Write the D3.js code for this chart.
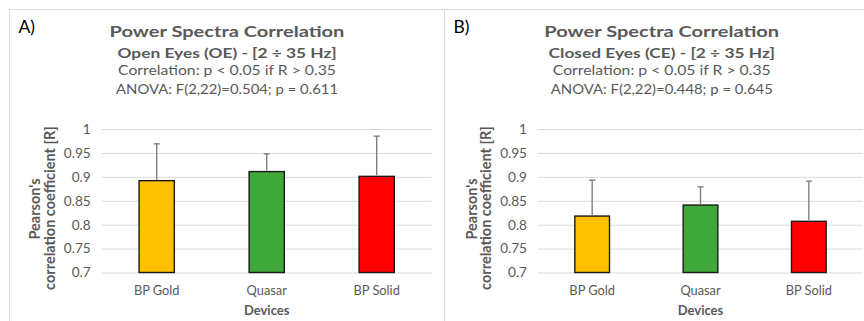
<!DOCTYPE html>
<html>
<head>
<meta charset="utf-8">
<script src="https://cdn.jsdelivr.net/npm/d3@7"></script>
<style>
  html, body { margin: 0; padding: 0; background: #fff; }
  svg { display: block; font-family: Lato, "Open Sans", sans-serif; }
</style>
</head>
<body>
<svg id="chart" width="864" height="321"></svg>
<script>
// data
const devices = ["BP Gold", "Quasar", "BP Solid"];
const meanOE = [0.892, 0.911, 0.901];
const errOE = [0.077, 0.037, 0.084];
const meanCE = [0.818, 0.841, 0.807];
const errCE = [0.075, 0.038, 0.084];
const barColors = ["#ffc000", "#3fa83a", "#ff0000"];
const yTicks = [0.7, 0.75, 0.8, 0.85, 0.9, 0.95, 1];
const panelLetters = ["A)", "B)"];
const subtitles = ["Open Eyes (OE) - [2 ÷ 35 Hz]", "Closed Eyes (CE) - [2 ÷ 35 Hz]"];
const anovaTexts = ["ANOVA: F(2,22)=0.504; p = 0.611", "ANOVA: F(2,22)=0.448; p = 0.645"];
const titleText = "Power Spectra Correlation";
const corrText = "Correlation: p < 0.05 if R > 0.35";

const svg = d3.select("#chart");
const grey = "#595959";

const panels = [
  {x0: 9.5, x1: 444.5, plotL: 101.7, plotR: 431.7, mean: meanOE, err: errOE},
  {x0: 444.5, x1: 879, plotL: 538, plotR: 863, mean: meanCE, err: errCE}
];

const y = d3.scaleLinear().domain([0.7, 1]).range([272.5, 129]);

// centred header text, stretched sideways to a given width (or by a given factor)
function header(g, cx, cy, txt, size, bold, w, sxGiven) {
  const t = g.append("text")
    .attr("text-anchor", "middle").attr("font-size", size)
    .attr("font-weight", bold ? "bold" : "normal")
    .attr("fill", grey).text(txt);
  const sx = sxGiven || (w / t.node().getComputedTextLength());
  t.attr("transform", `translate(${cx},${cy}) scale(${sx},1)`);
  return sx;
}

const sx = {};

panels.forEach((p, pi) => {
  const g = svg.append("g");
  const cx = (p.x0 + p.x1) / 2;

  // panel frame
  g.append("rect")
    .attr("x", p.x0).attr("y", 9.5)
    .attr("width", p.x1 - p.x0).attr("height", 330)
    .attr("fill", "none").attr("stroke", "#d9d9d9").attr("stroke-width", 1);

  g.append("text")
    .attr("x", p.x0 + 9).attr("y", 33.3)
    .attr("font-size", 17.5).attr("fill", "#000")
    .text(panelLetters[pi]);

  // titles (widths measured on panel A, same stretch reused for B)
  sx.title = header(g, cx, 37.3, titleText, 16, true, 235, sx.title);
  sx.sub = header(g, cx, 57.7, subtitles[pi], 13.2, true, 219, sx.sub);
  sx.corr = header(g, cx, 75, corrText, 12.6, false, 218, sx.corr);
  sx.anova = header(g, cx, 94.3, anovaTexts[pi], 12.6, false, 222, sx.anova);

  const x = d3.scaleBand().domain(devices)
    .range([p.plotL, p.plotR]).paddingInner(0.68).paddingOuter(0.34);

  // y axis with gridlines
  const ya = g.append("g")
    .attr("transform", `translate(${p.plotL},0)`)
    .call(d3.axisLeft(y).tickValues(yTicks)
      .tickFormat(d => String(+d.toFixed(2)))
      .tickSize(-(p.plotR - p.plotL)).tickPadding(11));
  ya.select(".domain").remove();
  ya.selectAll(".tick line").attr("stroke", "#d9d9d9");
  ya.selectAll(".tick text").attr("fill", grey)
    .attr("font-size", 13.6).attr("font-family", "Lato, sans-serif");

  // x axis labels
  const xa = g.append("g")
    .attr("transform", `translate(0,${y(0.7)})`)
    .call(d3.axisBottom(x).tickSize(0).tickPadding(13.5));
  xa.select(".domain").remove();
  xa.selectAll(".tick text").attr("fill", grey)
    .attr("font-size", 12.8).attr("font-family", "Lato, sans-serif");

  // bars
  g.selectAll("rect.bar").data(devices).enter().append("rect")
    .attr("class", "bar")
    .attr("x", d => x(d)).attr("width", x.bandwidth())
    .attr("y", (d, i) => y(p.mean[i]))
    .attr("height", (d, i) => y(0.7) - y(p.mean[i]))
    .attr("fill", (d, i) => barColors[i])
    .attr("stroke", "#1a1a1a").attr("stroke-width", 1.4);

  // error bars (upper only)
  const eb = g.selectAll("g.err").data(devices).enter().append("g")
    .attr("class", "err")
    .attr("stroke", "#7f7f7f").attr("stroke-width", 1.4);
  eb.append("line")
    .attr("x1", d => x(d) + x.bandwidth() / 2).attr("x2", d => x(d) + x.bandwidth() / 2)
    .attr("y1", (d, i) => y(p.mean[i]) - 1)
    .attr("y2", (d, i) => y(p.mean[i] + p.err[i]));
  eb.append("line")
    .attr("x1", d => x(d) + x.bandwidth() / 2 - 3).attr("x2", d => x(d) + x.bandwidth() / 2 + 3)
    .attr("y1", (d, i) => y(p.mean[i] + p.err[i]))
    .attr("y2", (d, i) => y(p.mean[i] + p.err[i]));

  // axis titles
  const ytx = p.plotL - 62;
  g.append("text")
    .attr("transform", `translate(${ytx + 0.5},209) rotate(-90)`)
    .attr("text-anchor", "middle").attr("font-size", 14.5).attr("font-weight", "bold")
    .attr("fill", grey).text("Pearson's");
  g.append("text")
    .attr("transform", `translate(${ytx + 15},208) rotate(-90)`)
    .attr("text-anchor", "middle").attr("font-size", 14.5).attr("font-weight", "bold")
    .attr("fill", grey).text("correlation coefficient [R]");

  g.append("text")
    .attr("x", (p.plotL + p.plotR) / 2).attr("y", 315)
    .attr("text-anchor", "middle").attr("font-size", 13).attr("font-weight", "bold")
    .attr("fill", grey).text("Devices");
});
</script>
</body>
</html>
